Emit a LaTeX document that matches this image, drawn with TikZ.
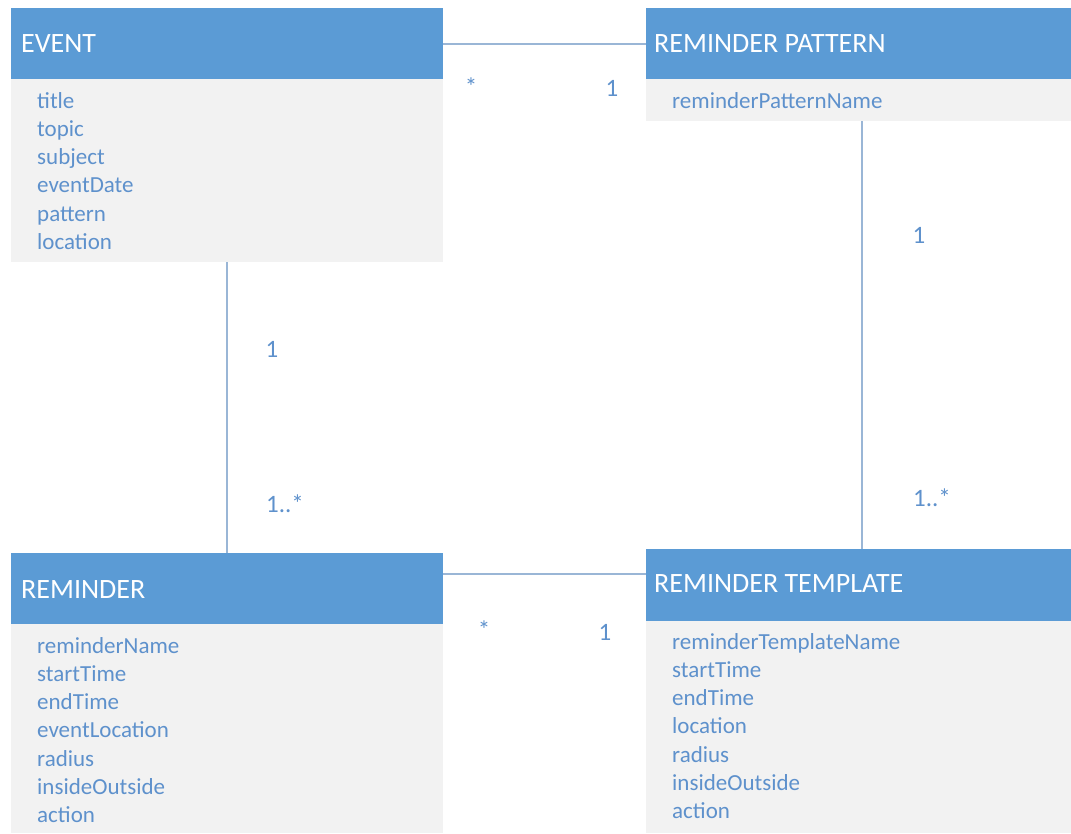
\documentclass[tikz,border=0pt]{standalone}
\usepackage{fontspec}
\setmainfont{Carlito}
\definecolor{hdrblue}{HTML}{5B9BD5}
\definecolor{bodygray}{HTML}{F2F2F2}
\definecolor{attrblue}{HTML}{5E91CC}
\definecolor{linkblue}{HTML}{9AB6D6}

\tikzset{
  classhead/.style={rectangle, fill=hdrblue, inner sep=0pt, anchor=north west, minimum height=71pt},
  classbody/.style={rectangle, fill=bodygray, inner sep=0pt, anchor=north west},
  classtitle/.style={anchor=base west, inner sep=0pt, text=white, font=\fontsize{28}{32}\selectfont},
  attr/.style={anchor=base west, inner sep=0pt, text=attrblue, font=\fontsize{23}{27}\selectfont},
  mult/.style={anchor=base, inner sep=0pt, text=attrblue, font=\fontsize{25}{29}\selectfont},
  link/.style={draw=linkblue, line width=1.8pt}
}

\begin{document}
\begin{tikzpicture}[x=1pt,y=-1pt]
  \fill[white] (0,0) rectangle (1071,833);
  \useasboundingbox (0,0) rectangle (1071,833);

  % EVENT
  \node[classhead, minimum width=432pt] (evhead) at (11,8) {};
  \node[classbody, minimum width=432pt, minimum height=183pt] (evbody) at (11,79) {};
  \node[classtitle] (evtitle) at (21,52) {EVENT};
  \foreach \a [count=\i from 0] in {title,topic,subject,eventDate,pattern,location}
    \node[attr] (ev-\i) at (37,{108+28.3*\i}) {\a};

  % REMINDER PATTERN
  \node[classhead, minimum width=425pt] (rphead) at (646,8) {};
  \node[classbody, minimum width=425pt, minimum height=42pt] (rpbody) at (646,79) {};
  \node[classtitle] (rptitle) at (654,52) {REMINDER PATTERN};
  \node[attr] (rp-0) at (672,108) {reminderPatternName};

  % REMINDER
  \node[classhead, minimum width=432pt] (remhead) at (11,553) {};
  \node[classbody, minimum width=432pt, minimum height=209pt] (rembody) at (11,624) {};
  \node[classtitle] (remtitle) at (21,598) {REMINDER};
  \foreach \a [count=\i from 0] in {reminderName,startTime,endTime,eventLocation,radius,insideOutside,action}
    \node[attr] (rem-\i) at (37,{653+28.3*\i}) {\a};

  % REMINDER TEMPLATE
  \node[classhead, minimum width=425pt, minimum height=72pt] (rthead) at (646,549) {};
  \node[classbody, minimum width=425pt, minimum height=212pt] (rtbody) at (646,621) {};
  \node[classtitle] (rttitle) at (654,592) {REMINDER TEMPLATE};
  \foreach \a [count=\i from 0] in {reminderTemplateName,startTime,endTime,location,radius,insideOutside,action}
    \node[attr] (rt-\i) at (672,{649+28.3*\i}) {\a};

  % associations
  \draw[link] (evhead.east) -- (rphead.west);
  \draw[link] (evbody.south) -- (remhead.north);
  \draw[link] ([xshift=3.5pt]rpbody.south) -- ([xshift=3.5pt]rthead.north);
  \draw[link] ([yshift=14.5pt]remhead.east) coordinate (bl) -- (bl -| rthead.west);

  % multiplicities
  \node[mult] (m-ev-rp)  at (471,95)  {*};
  \node[mult] (m-rp-ev)  at (612,96)  {1};
  \node[mult] (m-ev-rem) at (272,357) {1};
  \node[mult, anchor=base west] (m-rem-ev) at (266,512) {1..*};
  \node[mult] (m-rp-rt)  at (919,243) {1};
  \node[mult, anchor=base west] (m-rt-rp) at (913,506) {1..*};
  \node[mult] (m-rem-rt) at (484,638) {*};
  \node[mult] (m-rt-rem) at (605,640) {1};
\end{tikzpicture}
\end{document}
